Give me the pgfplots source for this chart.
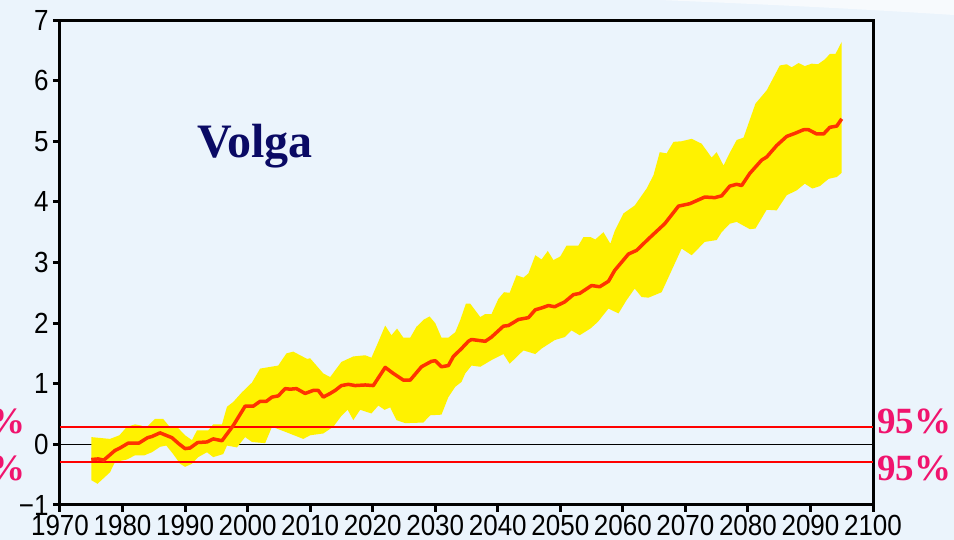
\documentclass[border=0pt]{standalone}
\usepackage{graphicx}
\usepackage{pgfplots}
\pgfplotsset{compat=1.18}
\usepackage{fontspec}
\setmainfont{Liberation Sans}
\newfontfamily\tnr{Liberation Serif}
\definecolor{bgblue}{RGB}{235,244,252}
\definecolor{meanred}{RGB}{255,51,0}
\definecolor{pinkred}{RGB}{240,20,110}
\definecolor{navy}{RGB}{10,10,100}
\newcommand\tl[1]{\scalebox{1}[1.12]{#1}}
\begin{document}
\begin{tikzpicture}
\fill[bgblue] (-30pt,-17.5pt) rectangle (447pt,252.5pt);
\fill[white, opacity=0.6] (300pt,252.5pt) .. controls (360pt,250pt) and (400pt,248pt) .. (447pt,245pt) -- (447pt,252.5pt) -- cycle;
\begin{axis}[
  at={(0,0)}, anchor=south west,
  scale only axis, width=406.5pt, height=242.5pt,
  xmin=1970, xmax=2100, ymin=-1, ymax=7,
  clip=false,
  axis line style={black, line width=1.5pt},
  tick pos=left, tick align=outside,
  major tick length=3.5pt,
  tick style={black, line width=1.5pt},
  xtick={1970,1980,1990,2000,2010,2020,2030,2040,2050,2060,2070,2080,2090,2100},
  xticklabels={\tl{1970},\tl{1980},\tl{1990},\tl{2000},\tl{2010},\tl{2020},\tl{2030},\tl{2040},\tl{2050},\tl{2060},\tl{2070},\tl{2080},\tl{2090},\tl{2100}},
  ytick={-1,0,1,2,3,4,5,6,7},
  yticklabels={\tl{−1},\tl{0},\tl{1},\tl{2},\tl{3},\tl{4},\tl{5},\tl{6},\tl{7}},
  tick label style={font=\fontsize{13}{13}\selectfont},
  xticklabel style={inner sep=1.5pt},
  yticklabel style={inner sep=2pt},
]
% zero line (under band)
\addplot[black, line width=0.75pt] coordinates {(1970,0) (2100,0)};
% yellow band: upper envelope forward, lower envelope backward
\addplot[fill=yellow, draw=none] coordinates {
(1975.0,0.12) (1976.0,0.11) (1978.0,0.09) (1979.5,0.15) (1980.7,0.29) (1982.0,0.33)
(1983.0,0.31) (1983.8,0.28) (1985.2,0.42) (1986.5,0.42) (1987.6,0.28) (1988.7,0.29)
(1990.0,0.15) (1991.1,0.07) (1991.9,0.23) (1993.7,0.23) (1994.5,0.33) (1995.9,0.33)
(1996.7,0.62) (1997.7,0.70) (1999.1,0.86) (2000.7,1.02) (2002.0,1.25) (2004.9,1.30)
(2006.2,1.50) (2007.3,1.53) (2008.4,1.47) (2009.5,1.41) (2010.0,1.42) (2012.1,1.17)
(2013.2,1.11) (2015.0,1.36) (2016.9,1.45) (2018.8,1.47) (2019.8,1.43) (2020.9,1.69)
(2022.0,1.96) (2023.0,1.80) (2023.9,1.91) (2024.9,1.76) (2026.0,1.76) (2027.0,1.94)
(2028.2,2.06) (2029.1,2.11) (2030.0,2.00) (2031.0,1.76) (2032.1,1.76) (2033.2,1.85)
(2034.0,2.05) (2034.9,2.32) (2035.6,2.32) (2037.2,2.10) (2038.0,2.15) (2039.0,2.15)
(2040.1,2.40) (2041.0,2.51) (2041.9,2.50) (2043.0,2.79) (2044.1,2.75) (2044.9,2.82)
(2046.0,3.12) (2047.0,3.05) (2048.0,3.19) (2048.9,3.04) (2050.0,3.10) (2051.0,3.28)
(2052.9,3.28) (2053.7,3.42) (2054.8,3.42) (2055.6,3.38) (2056.9,3.50) (2058.0,3.31)
(2058.7,3.52) (2060.1,3.81) (2061.9,3.94) (2063.8,4.22) (2064.9,4.44) (2065.9,4.82)
(2067.0,4.80) (2068.1,4.99) (2069.4,5.00) (2071.0,5.04) (2072.6,4.96) (2074.2,4.73)
(2075.0,4.82) (2076.1,4.60) (2077.1,4.81) (2078.2,5.02) (2079.3,5.06) (2081.2,5.62)
(2083.0,5.84) (2085.1,6.25) (2086.2,6.27) (2087.0,6.22) (2088.1,6.29) (2089.1,6.24)
(2090.2,6.28) (2091.2,6.27) (2092.3,6.35) (2093.1,6.44) (2094.0,6.44) (2095.0,6.64)
(2095.0,4.48) (2094.2,4.41) (2092.9,4.38) (2091.5,4.26) (2090.3,4.22) (2089.1,4.30)
(2087.8,4.19) (2086.2,4.11) (2084.6,3.86) (2083.0,3.87) (2081.2,3.56) (2080.3,3.55)
(2078.2,3.67) (2077.1,3.64) (2075.8,3.50) (2075.0,3.37) (2073.1,3.34) (2071.0,3.12)
(2069.4,3.23) (2067.8,2.87) (2066.2,2.51) (2064.1,2.42) (2063.0,2.43) (2061.9,2.57)
(2060.6,2.38) (2059.3,2.16) (2057.7,2.24) (2056.0,2.02) (2054.8,1.91) (2053.1,1.80)
(2051.8,1.88) (2050.7,1.77) (2049.1,1.72) (2047.0,1.58) (2046.0,1.49) (2044.1,1.55)
(2041.9,1.33) (2040.9,1.49) (2039.0,1.39) (2037.2,1.28) (2035.8,1.30) (2034.8,1.17)
(2034.2,1.03) (2033.2,0.95) (2032.1,0.78) (2031.0,0.49) (2029.2,0.48) (2028.1,0.36)
(2025.2,0.35) (2023.8,0.40) (2022.8,0.61) (2021.9,0.57) (2020.9,0.64) (2019.8,0.51)
(2018.0,0.57) (2016.9,0.40) (2016.0,0.57) (2015.0,0.47) (2013.7,0.29) (2012.1,0.18)
(2010.0,0.15) (2008.9,0.09) (2006.2,0.20) (2003.9,0.29) (2002.8,0.02) (2000.7,0.04)
(1999.6,0.12) (1998.3,-0.05) (1996.7,-0.02) (1996.1,-0.16) (1994.5,-0.21) (1993.5,-0.13)
(1992.1,-0.21) (1991.1,-0.32) (1990.0,-0.37) (1989.2,-0.32) (1988.1,-0.16) (1987.0,-0.02)
(1986.0,-0.04) (1984.7,-0.13) (1983.5,-0.18) (1982.0,-0.18) (1980.7,-0.25) (1978.8,-0.29)
(1978.0,-0.46) (1976.0,-0.65) (1975.0,-0.59)
} --cycle;
% 95% lines
\addplot[red, line width=1pt] coordinates {(1970,0.28) (2100,0.28)};
\addplot[red, line width=1pt] coordinates {(1970,-0.29) (2100,-0.29)};
% ensemble mean
\addplot[meanred, line width=1.75pt, line join=round] coordinates {
(1975.0,-0.25) (1976.1,-0.24) (1977.0,-0.26) (1978.8,-0.10) (1979.6,-0.06) (1980.9,0.02)
(1982.6,0.02) (1984.0,0.11) (1984.7,0.13) (1986.0,0.19) (1987.9,0.11) (1989.0,0.01)
(1990.0,-0.07) (1990.8,-0.06) (1992.0,0.03) (1993.5,0.04) (1994.5,0.09) (1995.9,0.06)
(1997.7,0.31) (1999.6,0.63) (2000.9,0.63) (2002.0,0.71) (2003.0,0.71) (2003.9,0.78)
(2004.9,0.80) (2006.0,0.92) (2006.8,0.91) (2007.8,0.92) (2009.2,0.84) (2010.5,0.89)
(2011.3,0.89) (2012.1,0.78) (2013.2,0.84) (2014.0,0.89) (2015.0,0.97) (2016.1,0.99)
(2017.2,0.97) (2018.8,0.98) (2020.1,0.97) (2022.0,1.27) (2023.3,1.17) (2024.9,1.06)
(2026.0,1.06) (2027.8,1.28) (2029.4,1.37) (2030.0,1.38) (2031.0,1.28) (2032.1,1.30)
(2032.9,1.45) (2034.2,1.58) (2035.3,1.70) (2035.8,1.73) (2038.0,1.70) (2039.0,1.77)
(2040.9,1.95) (2041.7,1.96) (2043.3,2.06) (2044.9,2.09) (2046.0,2.22) (2047.0,2.25)
(2048.1,2.29) (2049.1,2.27) (2050.7,2.35) (2052.1,2.47) (2053.1,2.49) (2055.0,2.62)
(2056.3,2.60) (2057.7,2.69) (2058.7,2.87) (2060.9,3.14) (2062.2,3.20) (2064.1,3.39)
(2066.7,3.64) (2068.9,3.93) (2070.7,3.97) (2073.1,4.08) (2074.7,4.07) (2075.8,4.10)
(2077.1,4.26) (2078.2,4.29) (2079.0,4.27) (2080.3,4.47) (2082.2,4.69) (2083.0,4.74)
(2084.6,4.93) (2086.2,5.08) (2087.5,5.13) (2088.9,5.19) (2089.7,5.19) (2091.0,5.12)
(2092.1,5.12) (2093.1,5.23) (2094.2,5.25) (2095.0,5.37)
};
% labels
\node[anchor=base west, inner sep=0pt, text=navy, font=\tnr\bfseries\fontsize{24}{24}\selectfont] at (axis cs:1991.9,4.74) {Volga};
\node[anchor=base west, inner sep=0pt, text=pinkred, font=\tnr\bfseries\fontsize{18.5}{18.5}\selectfont] at (axis cs:2100.6,0.18) {95\%};
\node[anchor=base west, inner sep=0pt, text=pinkred, font=\tnr\bfseries\fontsize{18.5}{18.5}\selectfont] at (axis cs:2100.6,-0.59) {95\%};
\node[anchor=base east, inner sep=0pt, text=pinkred, font=\tnr\bfseries\fontsize{18.5}{18.5}\selectfont] at (axis cs:1964.6,0.18) {95\%};
\node[anchor=base east, inner sep=0pt, text=pinkred, font=\tnr\bfseries\fontsize{18.5}{18.5}\selectfont] at (axis cs:1964.6,-0.59) {95\%};
\end{axis}
\pgfresetboundingbox
\path[use as bounding box] (-30pt,-17.5pt) rectangle (447pt,252.5pt);
\end{tikzpicture}
\end{document}
